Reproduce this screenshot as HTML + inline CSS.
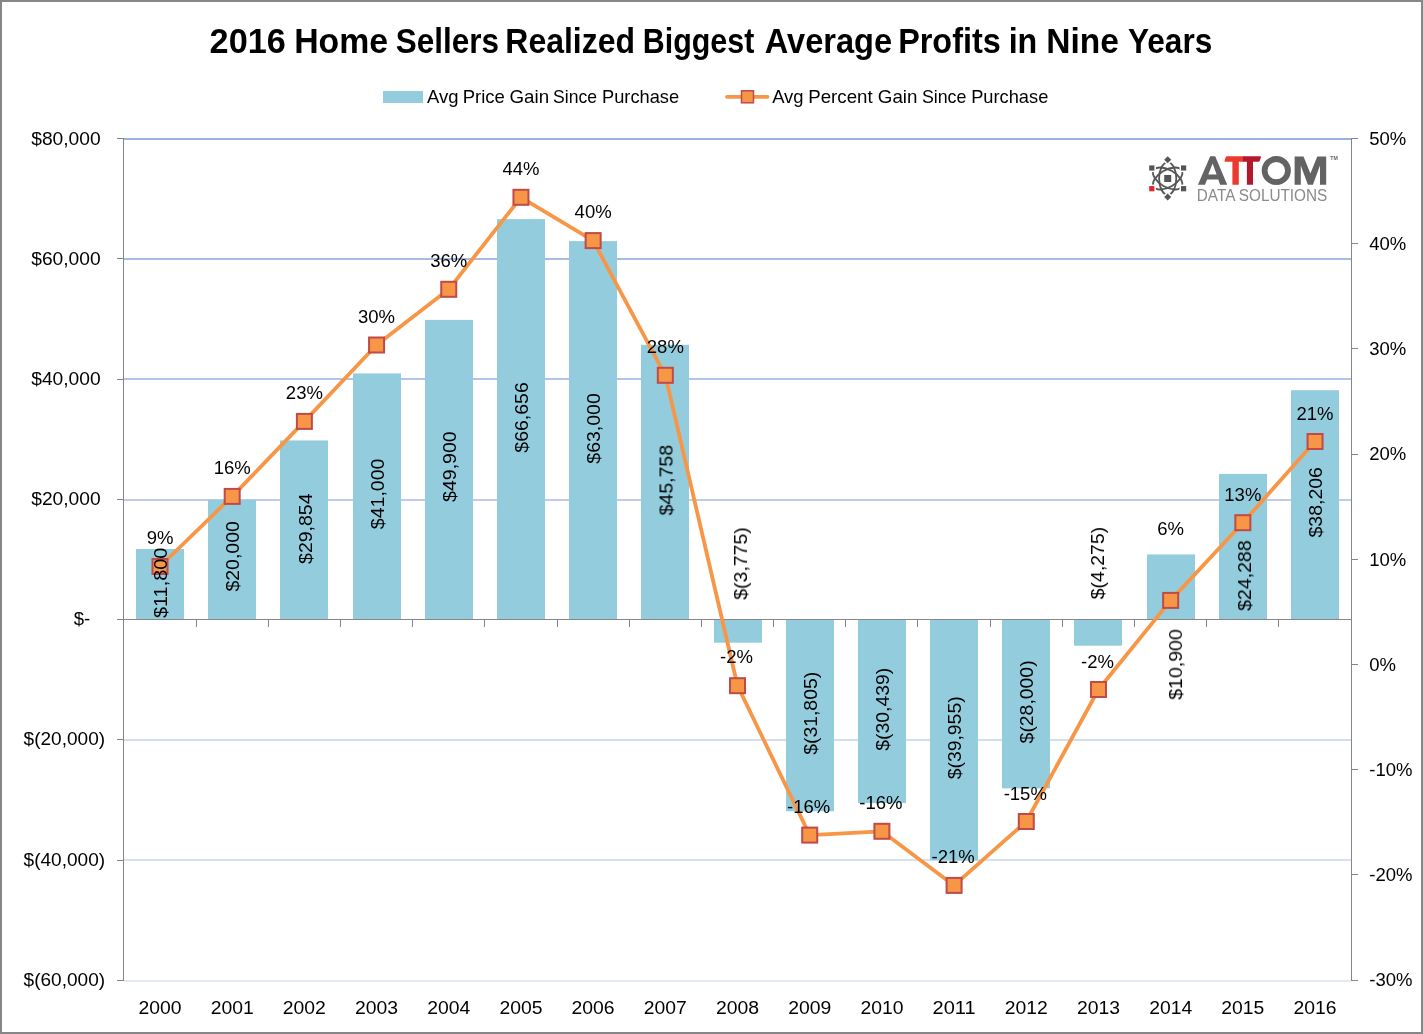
<!DOCTYPE html><html><head><meta charset="utf-8"><style>html,body{margin:0;padding:0;background:#fff;}svg{display:block}text{font-family:"Liberation Sans",sans-serif;fill:#000;}</style></head><body>
<svg width="1423" height="1034" viewBox="0 0 1423 1034">
<rect x="0" y="0" width="1423" height="1034" fill="#fff"/>
<rect x="124" y="138" width="1227" height="2" fill="#99B2DF"/>
<rect x="124" y="258" width="1227" height="2" fill="#A5BCE3"/>
<rect x="124" y="378" width="1227" height="2" fill="#B2C5E8"/>
<rect x="124" y="499" width="1227" height="2" fill="#BCCCE9"/>
<rect x="124" y="739" width="1227" height="2" fill="#D1DDF1"/>
<rect x="124" y="859" width="1227" height="2" fill="#D7E1F2"/>
<rect x="124" y="980" width="1227" height="2" fill="#E2E8F4"/>
<rect x="136" y="549.03" width="48" height="70.97" fill="#93CDDD"/>
<rect x="208" y="499.71" width="48" height="120.29" fill="#93CDDD"/>
<rect x="280" y="440.45" width="48" height="179.55" fill="#93CDDD"/>
<rect x="353" y="373.41" width="48" height="246.59" fill="#93CDDD"/>
<rect x="425" y="319.89" width="48" height="300.11" fill="#93CDDD"/>
<rect x="497" y="219.11" width="48" height="400.89" fill="#93CDDD"/>
<rect x="569" y="241.10" width="48" height="378.90" fill="#93CDDD"/>
<rect x="641" y="344.80" width="48" height="275.20" fill="#93CDDD"/>
<rect x="714" y="620.00" width="48" height="22.70" fill="#93CDDD"/>
<rect x="786" y="620.00" width="48" height="191.28" fill="#93CDDD"/>
<rect x="858" y="620.00" width="48" height="183.07" fill="#93CDDD"/>
<rect x="930" y="620.00" width="48" height="240.30" fill="#93CDDD"/>
<rect x="1002" y="620.00" width="48" height="168.40" fill="#93CDDD"/>
<rect x="1074" y="620.00" width="48" height="25.71" fill="#93CDDD"/>
<rect x="1147" y="554.44" width="48" height="65.56" fill="#93CDDD"/>
<rect x="1219" y="473.92" width="48" height="146.08" fill="#93CDDD"/>
<rect x="1291" y="390.22" width="48" height="229.78" fill="#93CDDD"/>
<rect x="123" y="138" width="1" height="843" fill="#868686"/>
<rect x="1351" y="138" width="1" height="843" fill="#868686"/>
<rect x="117" y="619" width="1235" height="1" fill="#868686"/>
<rect x="117" y="138" width="6" height="1" fill="#868686"/>
<rect x="117" y="258" width="6" height="1" fill="#868686"/>
<rect x="117" y="379" width="6" height="1" fill="#868686"/>
<rect x="117" y="499" width="6" height="1" fill="#868686"/>
<rect x="117" y="619" width="6" height="1" fill="#868686"/>
<rect x="117" y="739" width="6" height="1" fill="#868686"/>
<rect x="117" y="860" width="6" height="1" fill="#868686"/>
<rect x="117" y="980" width="6" height="1" fill="#868686"/>
<rect x="1352" y="138" width="6" height="1" fill="#868686"/>
<rect x="1352" y="243" width="6" height="1" fill="#868686"/>
<rect x="1352" y="348" width="6" height="1" fill="#868686"/>
<rect x="1352" y="454" width="6" height="1" fill="#868686"/>
<rect x="1352" y="559" width="6" height="1" fill="#868686"/>
<rect x="1352" y="664" width="6" height="1" fill="#868686"/>
<rect x="1352" y="769" width="6" height="1" fill="#868686"/>
<rect x="1352" y="874" width="6" height="1" fill="#868686"/>
<rect x="1352" y="980" width="6" height="1" fill="#868686"/>
<rect x="123" y="620" width="1" height="7" fill="#868686"/>
<rect x="196" y="620" width="1" height="7" fill="#868686"/>
<rect x="268" y="620" width="1" height="7" fill="#868686"/>
<rect x="340" y="620" width="1" height="7" fill="#868686"/>
<rect x="412" y="620" width="1" height="7" fill="#868686"/>
<rect x="484" y="620" width="1" height="7" fill="#868686"/>
<rect x="557" y="620" width="1" height="7" fill="#868686"/>
<rect x="629" y="620" width="1" height="7" fill="#868686"/>
<rect x="701" y="620" width="1" height="7" fill="#868686"/>
<rect x="773" y="620" width="1" height="7" fill="#868686"/>
<rect x="845" y="620" width="1" height="7" fill="#868686"/>
<rect x="917" y="620" width="1" height="7" fill="#868686"/>
<rect x="990" y="620" width="1" height="7" fill="#868686"/>
<rect x="1062" y="620" width="1" height="7" fill="#868686"/>
<rect x="1134" y="620" width="1" height="7" fill="#868686"/>
<rect x="1206" y="620" width="1" height="7" fill="#868686"/>
<rect x="1278" y="620" width="1" height="7" fill="#868686"/>
<rect x="1351" y="620" width="1" height="7" fill="#868686"/>
<polyline points="160.00,566.50 232.19,496.40 304.38,421.40 376.57,345.00 448.76,289.30 520.95,197.30 593.14,240.60 665.33,375.30 737.52,685.70 809.71,835.10 881.90,831.30 954.09,885.40 1026.28,821.50 1098.47,689.50 1170.66,600.40 1242.85,522.70 1315.04,441.50" fill="none" stroke="#F79646" stroke-width="3.8" stroke-linejoin="round" stroke-linecap="round"/>
<rect x="152.50" y="559.00" width="15" height="15" fill="#F79646" stroke="#BE4B48" stroke-width="2"/>
<rect x="224.69" y="488.90" width="15" height="15" fill="#F79646" stroke="#BE4B48" stroke-width="2"/>
<rect x="296.88" y="413.90" width="15" height="15" fill="#F79646" stroke="#BE4B48" stroke-width="2"/>
<rect x="369.07" y="337.50" width="15" height="15" fill="#F79646" stroke="#BE4B48" stroke-width="2"/>
<rect x="441.26" y="281.80" width="15" height="15" fill="#F79646" stroke="#BE4B48" stroke-width="2"/>
<rect x="513.45" y="189.80" width="15" height="15" fill="#F79646" stroke="#BE4B48" stroke-width="2"/>
<rect x="585.64" y="233.10" width="15" height="15" fill="#F79646" stroke="#BE4B48" stroke-width="2"/>
<rect x="657.83" y="367.80" width="15" height="15" fill="#F79646" stroke="#BE4B48" stroke-width="2"/>
<rect x="730.02" y="678.20" width="15" height="15" fill="#F79646" stroke="#BE4B48" stroke-width="2"/>
<rect x="802.21" y="827.60" width="15" height="15" fill="#F79646" stroke="#BE4B48" stroke-width="2"/>
<rect x="874.40" y="823.80" width="15" height="15" fill="#F79646" stroke="#BE4B48" stroke-width="2"/>
<rect x="946.59" y="877.90" width="15" height="15" fill="#F79646" stroke="#BE4B48" stroke-width="2"/>
<rect x="1018.78" y="814.00" width="15" height="15" fill="#F79646" stroke="#BE4B48" stroke-width="2"/>
<rect x="1090.97" y="682.00" width="15" height="15" fill="#F79646" stroke="#BE4B48" stroke-width="2"/>
<rect x="1163.16" y="592.90" width="15" height="15" fill="#F79646" stroke="#BE4B48" stroke-width="2"/>
<rect x="1235.35" y="515.20" width="15" height="15" fill="#F79646" stroke="#BE4B48" stroke-width="2"/>
<rect x="1307.54" y="434.00" width="15" height="15" fill="#F79646" stroke="#BE4B48" stroke-width="2"/>
<rect x="383" y="91" width="40" height="12" fill="#93CDDD"/>
<line x1="727" y1="96.8" x2="767.5" y2="96.8" stroke="#F79646" stroke-width="3.8" stroke-linecap="round"/>
<rect x="741.5" y="90.8" width="12" height="12" fill="#F79646" stroke="#BE4B48" stroke-width="1.5"/>
<g fill="none" stroke="#555" stroke-width="1.8">
<ellipse cx="1167.7" cy="178.5" rx="8.6" ry="16.2" transform="rotate(0 1167.7 178.5)"/>
<ellipse cx="1167.7" cy="178.5" rx="8.6" ry="16.2" transform="rotate(60 1167.7 178.5)"/>
<ellipse cx="1167.7" cy="178.5" rx="8.6" ry="16.2" transform="rotate(120 1167.7 178.5)"/>
</g>
<rect x="1163.70" y="155.80" width="8.0" height="8.0" fill="#fff" transform="rotate(45 1167.7 159.8)"/>
<rect x="1165.20" y="157.30" width="5.0" height="5.0" fill="#555" transform="rotate(45 1167.7 159.8)"/>
<rect x="1163.70" y="193.00" width="8.0" height="8.0" fill="#fff" transform="rotate(45 1167.7 197.0)"/>
<rect x="1165.20" y="194.50" width="5.0" height="5.0" fill="#555" transform="rotate(45 1167.7 197.0)"/>
<rect x="1147.70" y="163.90" width="8.2" height="8.2" fill="#fff" transform="rotate(0 1151.8 168.0)"/>
<rect x="1149.20" y="165.40" width="5.2" height="5.2" fill="#555" transform="rotate(0 1151.8 168.0)"/>
<rect x="1179.50" y="163.90" width="8.2" height="8.2" fill="#fff" transform="rotate(0 1183.6 168.0)"/>
<rect x="1181.00" y="165.40" width="5.2" height="5.2" fill="#555" transform="rotate(0 1183.6 168.0)"/>
<rect x="1147.70" y="184.60" width="8.2" height="8.2" fill="#fff" transform="rotate(0 1151.8 188.7)"/>
<rect x="1149.20" y="186.10" width="5.2" height="5.2" fill="#E3262A" transform="rotate(0 1151.8 188.7)"/>
<rect x="1179.50" y="184.60" width="8.2" height="8.2" fill="#fff" transform="rotate(0 1183.6 188.7)"/>
<rect x="1181.00" y="186.10" width="5.2" height="5.2" fill="#555" transform="rotate(0 1183.6 188.7)"/>
<rect x="1164.2" y="175" width="7" height="7" fill="#555"/>
<path d="M1197.95,184.7 L1210.2,156.3 L1215.2,156.3 L1227.2,184.7 L1220.1,184.7 L1218.3,179.4 L1207.1,179.4 L1205.0,184.7 Z M1208.3,174.6 L1216.6,174.6 L1212.6,163.4 Z" fill="#636363" fill-rule="evenodd"/>
<path d="M1227.2,156.2 L1243.2,156.2 L1243.2,161.8 L1238.8,161.8 L1238.8,184.7 L1232.4,184.7 L1232.4,161.8 L1225.2,161.8 Q1224.2,161.8 1224.6,160.6 L1225.6,157.6 Q1226.1,156.2 1227.2,156.2 Z" fill="#EC3A2F"/>
<path d="M1243.0,156.2 L1260.2,156.2 Q1261.3,156.2 1260.9,157.4 L1259.9,160.4 Q1259.4,161.8 1258.2,161.8 L1253.0,161.8 L1253.0,184.7 L1246.9,184.7 L1246.9,161.8 L1243.0,161.8 Z" fill="#B21A2B"/>
<ellipse cx="1276.3" cy="170.6" rx="11.7" ry="11.6" fill="none" stroke="#636363" stroke-width="5.8"/>
<path d="M1294.6,184.8 L1294.6,156.4 L1303.5,156.4 L1310.4,173.6 L1317.3,156.4 L1326.2,156.4 L1326.2,184.8 L1320.0,184.8 L1320.0,165.5 L1312.9,184.8 L1307.9,184.8 L1300.8,165.5 L1300.8,184.8 Z" fill="#636363"/>
<g style="filter:grayscale(1)">
<g transform="translate(167.20,582.82) rotate(-90)">
<text x="0.00" y="0.00" font-size="18.5" class="bl" text-anchor="middle" textLength="70.5" lengthAdjust="spacingAndGlyphs" >$11,800</text>
</g>
<g transform="translate(239.39,556.36) rotate(-90)">
<text x="0.00" y="0.00" font-size="18.5" class="bl" text-anchor="middle" textLength="70.5" lengthAdjust="spacingAndGlyphs" >$20,000</text>
</g>
<g transform="translate(311.58,528.72) rotate(-90)">
<text x="0.00" y="0.00" font-size="18.5" class="bl" text-anchor="middle" textLength="70.5" lengthAdjust="spacingAndGlyphs" >$29,854</text>
</g>
<g transform="translate(383.77,493.91) rotate(-90)">
<text x="0.00" y="0.00" font-size="18.5" class="bl" text-anchor="middle" textLength="70.5" lengthAdjust="spacingAndGlyphs" >$41,000</text>
</g>
<g transform="translate(455.96,466.64) rotate(-90)">
<text x="0.00" y="0.00" font-size="18.5" class="bl" text-anchor="middle" textLength="70.5" lengthAdjust="spacingAndGlyphs" >$49,900</text>
</g>
<g transform="translate(528.15,417.46) rotate(-90)">
<text x="0.00" y="0.00" font-size="18.5" class="bl" text-anchor="middle" textLength="70.5" lengthAdjust="spacingAndGlyphs" >$66,656</text>
</g>
<g transform="translate(600.34,428.45) rotate(-90)">
<text x="0.00" y="0.00" font-size="18.5" class="bl" text-anchor="middle" textLength="70.5" lengthAdjust="spacingAndGlyphs" >$63,000</text>
</g>
<g transform="translate(672.53,480.20) rotate(-90)">
<text x="0.00" y="0.00" font-size="18.5" class="bl" text-anchor="middle" textLength="70.5" lengthAdjust="spacingAndGlyphs" >$45,758</text>
</g>
<g transform="translate(747.00,563.50) rotate(-90)">
<text x="0.00" y="0.00" font-size="18.5" class="bl" text-anchor="middle" textLength="72.5" lengthAdjust="spacingAndGlyphs" >$(3,775)</text>
</g>
<g transform="translate(816.91,713.34) rotate(-90)">
<text x="0.00" y="0.00" font-size="18.5" class="bl" text-anchor="middle" textLength="83.0" lengthAdjust="spacingAndGlyphs" >$(31,805)</text>
</g>
<g transform="translate(889.10,709.23) rotate(-90)">
<text x="0.00" y="0.00" font-size="18.5" class="bl" text-anchor="middle" textLength="83.0" lengthAdjust="spacingAndGlyphs" >$(30,439)</text>
</g>
<g transform="translate(961.29,737.85) rotate(-90)">
<text x="0.00" y="0.00" font-size="18.5" class="bl" text-anchor="middle" textLength="83.0" lengthAdjust="spacingAndGlyphs" >$(39,955)</text>
</g>
<g transform="translate(1033.48,701.90) rotate(-90)">
<text x="0.00" y="0.00" font-size="18.5" class="bl" text-anchor="middle" textLength="83.0" lengthAdjust="spacingAndGlyphs" >$(28,000)</text>
</g>
<g transform="translate(1104.00,563.10) rotate(-90)">
<text x="0.00" y="0.00" font-size="18.5" class="bl" text-anchor="middle" textLength="72.5" lengthAdjust="spacingAndGlyphs" >$(4,275)</text>
</g>
<g transform="translate(1182.00,664.50) rotate(-90)">
<text x="0.00" y="0.00" font-size="18.5" class="bl" text-anchor="middle" textLength="70.5" lengthAdjust="spacingAndGlyphs" >$10,900</text>
</g>
<g transform="translate(1251.00,575.60) rotate(-90)">
<text x="0.00" y="0.00" font-size="18.5" class="bl" text-anchor="middle" textLength="70.5" lengthAdjust="spacingAndGlyphs" >$24,288</text>
</g>
<g transform="translate(1322.24,502.31) rotate(-90)">
<text x="0.00" y="0.00" font-size="18.5" class="bl" text-anchor="middle" textLength="70.5" lengthAdjust="spacingAndGlyphs" >$38,206</text>
</g>
<text x="160.00" y="543.50" font-size="18.5" class="pl" text-anchor="middle" >9%</text>
<text x="232.19" y="474.40" font-size="18.5" class="pl" text-anchor="middle" >16%</text>
<text x="304.38" y="399.40" font-size="18.5" class="pl" text-anchor="middle" >23%</text>
<text x="376.57" y="323.00" font-size="18.5" class="pl" text-anchor="middle" >30%</text>
<text x="448.76" y="267.30" font-size="18.5" class="pl" text-anchor="middle" >36%</text>
<text x="520.95" y="175.30" font-size="18.5" class="pl" text-anchor="middle" >44%</text>
<text x="593.14" y="217.90" font-size="18.5" class="pl" text-anchor="middle" >40%</text>
<text x="665.33" y="353.30" font-size="18.5" class="pl" text-anchor="middle" >28%</text>
<text x="736.52" y="662.70" font-size="18.5" class="pl" text-anchor="middle" >-2%</text>
<text x="808.71" y="813.10" font-size="18.5" class="pl" text-anchor="middle" >-16%</text>
<text x="880.90" y="809.30" font-size="18.5" class="pl" text-anchor="middle" >-16%</text>
<text x="953.09" y="863.40" font-size="18.5" class="pl" text-anchor="middle" >-21%</text>
<text x="1025.28" y="799.50" font-size="18.5" class="pl" text-anchor="middle" >-15%</text>
<text x="1097.47" y="667.50" font-size="18.5" class="pl" text-anchor="middle" >-2%</text>
<text x="1170.66" y="534.60" font-size="18.5" class="pl" text-anchor="middle" >6%</text>
<text x="1242.85" y="500.70" font-size="18.5" class="pl" text-anchor="middle" >13%</text>
<text x="1315.04" y="419.50" font-size="18.5" class="pl" text-anchor="middle" >21%</text>
<text x="31.20" y="144.80" font-size="18.5" textLength="69.5" lengthAdjust="spacingAndGlyphs" >$80,000</text>
<text x="31.20" y="264.80" font-size="18.5" textLength="69.5" lengthAdjust="spacingAndGlyphs" >$60,000</text>
<text x="31.20" y="384.80" font-size="18.5" textLength="69.5" lengthAdjust="spacingAndGlyphs" >$40,000</text>
<text x="31.20" y="505.30" font-size="18.5" textLength="69.5" lengthAdjust="spacingAndGlyphs" >$20,000</text>
<text x="73.70" y="625.30" font-size="18.5" textLength="16.5" lengthAdjust="spacingAndGlyphs" >$-</text>
<text x="23.60" y="745.30" font-size="18.5" textLength="81.5" lengthAdjust="spacingAndGlyphs" >$(20,000)</text>
<text x="23.60" y="865.80" font-size="18.5" textLength="81.5" lengthAdjust="spacingAndGlyphs" >$(40,000)</text>
<text x="23.60" y="986.30" font-size="18.5" textLength="81.5" lengthAdjust="spacingAndGlyphs" >$(60,000)</text>
<text x="1369.30" y="144.70" font-size="18.5" >50%</text>
<text x="1369.30" y="249.90" font-size="18.5" >40%</text>
<text x="1369.30" y="355.10" font-size="18.5" >30%</text>
<text x="1369.30" y="460.30" font-size="18.5" >20%</text>
<text x="1369.30" y="565.50" font-size="18.5" >10%</text>
<text x="1369.30" y="670.70" font-size="18.5" >0%</text>
<text x="1369.30" y="775.90" font-size="18.5" >-10%</text>
<text x="1369.30" y="881.10" font-size="18.5" >-20%</text>
<text x="1369.30" y="986.30" font-size="18.5" >-30%</text>
<text x="160.00" y="1013.60" font-size="18" text-anchor="middle" textLength="43" lengthAdjust="spacingAndGlyphs" >2000</text>
<text x="232.19" y="1013.60" font-size="18" text-anchor="middle" textLength="43" lengthAdjust="spacingAndGlyphs" >2001</text>
<text x="304.38" y="1013.60" font-size="18" text-anchor="middle" textLength="43" lengthAdjust="spacingAndGlyphs" >2002</text>
<text x="376.57" y="1013.60" font-size="18" text-anchor="middle" textLength="43" lengthAdjust="spacingAndGlyphs" >2003</text>
<text x="448.76" y="1013.60" font-size="18" text-anchor="middle" textLength="43" lengthAdjust="spacingAndGlyphs" >2004</text>
<text x="520.95" y="1013.60" font-size="18" text-anchor="middle" textLength="43" lengthAdjust="spacingAndGlyphs" >2005</text>
<text x="593.14" y="1013.60" font-size="18" text-anchor="middle" textLength="43" lengthAdjust="spacingAndGlyphs" >2006</text>
<text x="665.33" y="1013.60" font-size="18" text-anchor="middle" textLength="43" lengthAdjust="spacingAndGlyphs" >2007</text>
<text x="737.52" y="1013.60" font-size="18" text-anchor="middle" textLength="43" lengthAdjust="spacingAndGlyphs" >2008</text>
<text x="809.71" y="1013.60" font-size="18" text-anchor="middle" textLength="43" lengthAdjust="spacingAndGlyphs" >2009</text>
<text x="881.90" y="1013.60" font-size="18" text-anchor="middle" textLength="43" lengthAdjust="spacingAndGlyphs" >2010</text>
<text x="954.09" y="1013.60" font-size="18" text-anchor="middle" textLength="43" lengthAdjust="spacingAndGlyphs" >2011</text>
<text x="1026.28" y="1013.60" font-size="18" text-anchor="middle" textLength="43" lengthAdjust="spacingAndGlyphs" >2012</text>
<text x="1098.47" y="1013.60" font-size="18" text-anchor="middle" textLength="43" lengthAdjust="spacingAndGlyphs" >2013</text>
<text x="1170.66" y="1013.60" font-size="18" text-anchor="middle" textLength="43" lengthAdjust="spacingAndGlyphs" >2014</text>
<text x="1242.85" y="1013.60" font-size="18" text-anchor="middle" textLength="43" lengthAdjust="spacingAndGlyphs" >2015</text>
<text x="1315.04" y="1013.60" font-size="18" text-anchor="middle" textLength="43" lengthAdjust="spacingAndGlyphs" >2016</text>
<text x="209.61" y="52.60" font-size="35" textLength="76.23" lengthAdjust="spacingAndGlyphs" font-weight="bold" >2016</text>
<text x="294.14" y="52.60" font-size="35" textLength="93.92" lengthAdjust="spacingAndGlyphs" font-weight="bold" >Home</text>
<text x="395.79" y="52.60" font-size="35" textLength="103.2" lengthAdjust="spacingAndGlyphs" font-weight="bold" >Sellers</text>
<text x="505.36" y="52.60" font-size="35" textLength="129.64" lengthAdjust="spacingAndGlyphs" font-weight="bold" >Realized</text>
<text x="642.76" y="52.60" font-size="35" textLength="111.61" lengthAdjust="spacingAndGlyphs" font-weight="bold" >Biggest</text>
<text x="764.70" y="52.60" font-size="35" textLength="127.41" lengthAdjust="spacingAndGlyphs" font-weight="bold" >Average</text>
<text x="898.13" y="52.60" font-size="35" textLength="102.7" lengthAdjust="spacingAndGlyphs" font-weight="bold" >Profits</text>
<text x="1008.65" y="52.60" font-size="35" textLength="28.65" lengthAdjust="spacingAndGlyphs" font-weight="bold" >in</text>
<text x="1046.26" y="52.60" font-size="35" textLength="72.69" lengthAdjust="spacingAndGlyphs" font-weight="bold" >Nine</text>
<text x="1127.97" y="52.60" font-size="35" textLength="84.3" lengthAdjust="spacingAndGlyphs" font-weight="bold" >Years</text>
<text x="427.06" y="102.70" font-size="18.5" textLength="31.51" lengthAdjust="spacingAndGlyphs" >Avg</text>
<text x="462.78" y="102.70" font-size="18.5" textLength="42.14" lengthAdjust="spacingAndGlyphs" >Price</text>
<text x="509.56" y="102.70" font-size="18.5" textLength="39.56" lengthAdjust="spacingAndGlyphs" >Gain</text>
<text x="553.10" y="102.70" font-size="18.5" textLength="43.88" lengthAdjust="spacingAndGlyphs" >Since</text>
<text x="602.00" y="102.70" font-size="18.5" textLength="77.11" lengthAdjust="spacingAndGlyphs" >Purchase</text>
<text x="772.16" y="102.70" font-size="18.5" textLength="31.41" lengthAdjust="spacingAndGlyphs" >Avg</text>
<text x="808.27" y="102.70" font-size="18.5" textLength="64.37" lengthAdjust="spacingAndGlyphs" >Percent</text>
<text x="877.86" y="102.70" font-size="18.5" textLength="39.56" lengthAdjust="spacingAndGlyphs" >Gain</text>
<text x="921.89" y="102.70" font-size="18.5" textLength="44.5" lengthAdjust="spacingAndGlyphs" >Since</text>
<text x="971.20" y="102.70" font-size="18.5" textLength="77.11" lengthAdjust="spacingAndGlyphs" >Purchase</text>
<text x="1330.20" y="160.20" font-size="5.2" textLength="7.6" lengthAdjust="spacingAndGlyphs" font-weight="bold" style="fill:#636363" >TM</text>
<text x="1196.80" y="201.00" font-size="17.2" textLength="130.5" lengthAdjust="spacingAndGlyphs" style="fill:#8A8A8A" >DATA SOLUTIONS</text>
</g>
<rect x="1" y="1" width="1421" height="1032" fill="none" stroke="#868686" stroke-width="2"/>
</svg></body></html>
